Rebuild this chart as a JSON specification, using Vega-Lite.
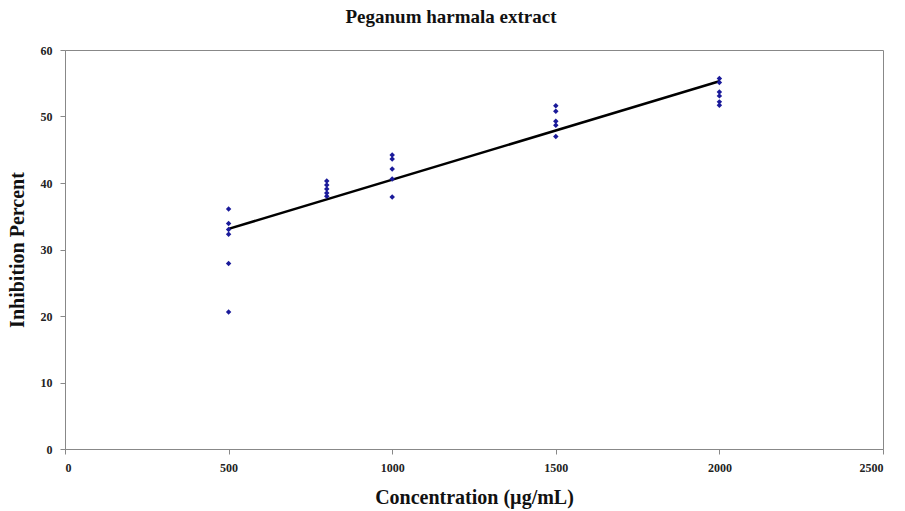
{
  "$schema": "https://vega.github.io/schema/vega-lite/v6.json",
  "autosize": "none",
  "width": 818,
  "height": 399,
  "padding": {"left": 65, "top": 50, "right": 22, "bottom": 62},
  "background": "white",
  "config": {
    "view": {"stroke": "#888888", "strokeWidth": 1},
    "axis": {
      "grid": false,
      "domainColor": "#888888",
      "tickColor": "#888888",
      "tickSize": 5,
      "labelFont": "Liberation Serif",
      "labelFontWeight": "bold",
      "labelFontSize": 12,
      "labelColor": "#222222",
      "format": "d",
      "titleFont": "Liberation Serif",
      "titleFontWeight": "bold",
      "titleFontSize": 20,
      "titleColor": "#111111"
    }
  },
  "title": {
    "text": "Peganum harmala extract",
    "font": "Liberation Serif",
    "fontSize": 19,
    "fontWeight": "bold",
    "color": "#111111",
    "offset": 17,
    "dx": -23
  },
  "datasets": {
    "points": [
      {"conc": 500, "inhib": 36.1},
      {"conc": 500, "inhib": 33.9},
      {"conc": 500, "inhib": 33.0},
      {"conc": 500, "inhib": 32.3},
      {"conc": 500, "inhib": 27.9},
      {"conc": 500, "inhib": 20.6},
      {"conc": 800, "inhib": 40.3},
      {"conc": 800, "inhib": 39.7},
      {"conc": 800, "inhib": 39.1},
      {"conc": 800, "inhib": 38.5},
      {"conc": 800, "inhib": 38.0},
      {"conc": 1000, "inhib": 44.2},
      {"conc": 1000, "inhib": 43.6},
      {"conc": 1000, "inhib": 42.1},
      {"conc": 1000, "inhib": 40.6},
      {"conc": 1000, "inhib": 37.9},
      {"conc": 1500, "inhib": 51.6},
      {"conc": 1500, "inhib": 50.8},
      {"conc": 1500, "inhib": 49.3},
      {"conc": 1500, "inhib": 48.7},
      {"conc": 1500, "inhib": 47.0},
      {"conc": 2000, "inhib": 55.7},
      {"conc": 2000, "inhib": 55.1},
      {"conc": 2000, "inhib": 53.7},
      {"conc": 2000, "inhib": 53.1},
      {"conc": 2000, "inhib": 52.2},
      {"conc": 2000, "inhib": 51.7}
    ],
    "fit": [
      {"conc": 500, "inhib": 33.1},
      {"conc": 2000, "inhib": 55.3}
    ]
  },
  "layer": [
    {
      "data": {"name": "fit"},
      "mark": {"type": "line", "color": "#000000", "strokeWidth": 2.5},
      "encoding": {
        "x": {"field": "conc", "type": "quantitative"},
        "y": {"field": "inhib", "type": "quantitative"}
      }
    },
    {
      "data": {"name": "points"},
      "mark": {"type": "point", "shape": "diamond", "filled": true, "color": "#1a1a9a", "size": 30, "opacity": 1},
      "encoding": {
        "x": {
          "field": "conc",
          "type": "quantitative",
          "scale": {"domain": [0, 2500], "nice": false},
          "axis": {"title": "Concentration (µg/mL)", "values": [0, 500, 1000, 1500, 2000, 2500], "labelPadding": 8, "titlePadding": 14}
        },
        "y": {
          "field": "inhib",
          "type": "quantitative",
          "scale": {"domain": [0, 60], "nice": false},
          "axis": {"title": "Inhibition Percent", "values": [0, 10, 20, 30, 40, 50, 60], "labelPadding": 8, "titlePadding": 13}
        }
      }
    }
  ]
}
